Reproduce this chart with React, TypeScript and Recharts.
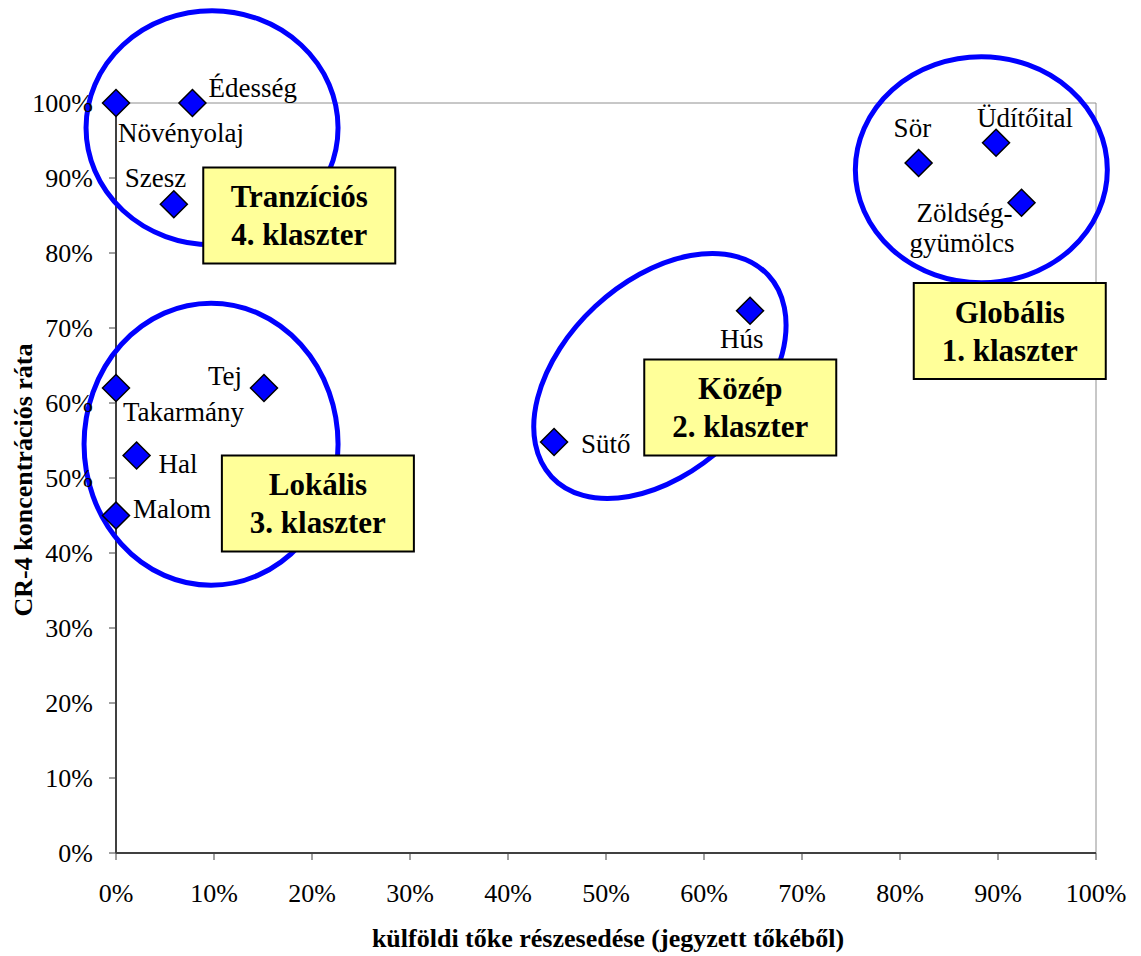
import React from 'react';
import { ScatterChart, Scatter, XAxis, YAxis, ReferenceDot, ReferenceLine, Label } from 'recharts';

// ---- data ----
const industries = ['Növényolaj', 'Édesség', 'Szesz', 'Sör', 'Üdítőital', 'Zöldség-gyümölcs', 'Takarmány', 'Tej', 'Hal', 'Malom', 'Sütő', 'Hús'];
const foreignShare = [0, 7.8, 5.9, 81.9, 89.8, 92.4, 0, 15.1, 2.1, 0, 44.7, 64.7];
const cr4Ratio = [100, 100, 86.5, 92.0, 94.7, 86.7, 62.0, 62.0, 53.0, 45.0, 54.8, 72.3];
const percentTicks = [0, 10, 20, 30, 40, 50, 60, 70, 80, 90, 100];

const clusterTitles = ['Globális', 'Közép', 'Lokális', 'Tranzíciós'];
const clusterNumbers = ['1. klaszter', '2. klaszter', '3. klaszter', '4. klaszter'];

// ---- annotation anchors (data coordinates) ----
const boxAnchorX = [91.2, 63.7, 20.6, 18.7];
const boxAnchorY = [69.6, 59.4, 46.6, 85.0];
const ringAnchorX = [88.3, 55.5, 9.7, 9.8];
const ringAnchorY = [91.1, 63.6, 54.5, 96.7];

// ---- styles ----
const ringShapes = [
  { rx: 126, ry: 113, rot: 0 },
  { rx: 148, ry: 95, rot: -43 },
  { rx: 127, ry: 141, rot: 0 },
  { rx: 126, ry: 117, rot: 0 },
];
const labelPlacement: Record<string, { dx: number; dy: number; lines?: string[]; lineDx?: number[] }> = {
  'Növényolaj': { dx: 2, dy: 39 },
  'Édesség': { dx: 16, dy: -6 },
  'Szesz': { dx: -49, dy: -17 },
  'Sör': { dx: -25, dy: -26 },
  'Üdítőital': { dx: -19, dy: -16 },
  'Zöldség-gyümölcs': { dx: -105, dy: 19, lines: ['Zöldség-', 'gyümölcs'], lineDx: [-105, -112] },
  'Takarmány': { dx: 7, dy: 33 },
  'Tej': { dx: -56, dy: -3 },
  'Hal': { dx: 22, dy: 17 },
  'Malom': { dx: 17, dy: 2 },
  'Sütő': { dx: 27, dy: 11 },
  'Hús': { dx: -30, dy: 37 },
};

const FONT = '"Liberation Serif", "Times New Roman", serif';
const BLUE = '#0000FF';

const points = industries.map((name, i) => ({ name, x: foreignShare[i], y: cr4Ratio[i] }));

const DiamondWithLabel = (props: any) => {
  const { cx, cy, payload } = props;
  if (cx == null || cy == null) return null;
  const h = 13.5;
  const pl = labelPlacement[payload.name] || { dx: 10, dy: 0 };
  const lines = pl.lines || [payload.name];
  return (
    <g>
      <path
        d={`M${cx},${cy - h} L${cx + h},${cy} L${cx},${cy + h} L${cx - h},${cy} Z`}
        fill={BLUE}
        stroke="#000"
        strokeWidth={1.5}
      />
      {lines.map((ln, k) => (
        <text
          key={k}
          x={cx + (pl.lineDx ? pl.lineDx[k] : pl.dx)}
          y={cy + pl.dy + k * 30}
          fontSize={27}
          fontFamily={FONT}
          fill="#000"
        >
          {ln}
        </text>
      ))}
    </g>
  );
};

const makeRing = (idx: number) => (props: any) => {
  const { cx, cy } = props;
  const s = ringShapes[idx];
  return (
    <ellipse
      cx={cx}
      cy={cy}
      rx={s.rx}
      ry={s.ry}
      transform={`rotate(${s.rot}, ${cx}, ${cy})`}
      fill="none"
      stroke={BLUE}
      strokeWidth={5}
    />
  );
};

const makeBox = (idx: number) => (props: any) => {
  const { cx, cy } = props;
  const w = 192;
  const h = 96;
  return (
    <g>
      <rect x={cx - w / 2} y={cy - h / 2} width={w} height={h} fill="#FFFF99" stroke="#000" strokeWidth={2} />
      <text x={cx} y={cy - 8.5} textAnchor="middle" fontSize={31} fontWeight="bold" fontFamily={FONT} fill="#000">
        {clusterTitles[idx]}
      </text>
      <text x={cx} y={cy + 29.5} textAnchor="middle" fontSize={31} fontWeight="bold" fontFamily={FONT} fill="#000">
        {clusterNumbers[idx]}
      </text>
    </g>
  );
};

const YTitle = (props: any) => {
  const vb = props.viewBox || {};
  const x = (vb.x || 0) + 32;
  const y = (vb.y || 0) + (vb.height || 0) / 2 + 2;
  return (
    <text x={x} y={y} transform={`rotate(-90, ${x}, ${y})`} textAnchor="middle" fontSize={26} fontWeight="bold" fontFamily={FONT} fill="#000">
      CR-4 koncentrációs ráta
    </text>
  );
};

const XTitle = (props: any) => {
  const vb = props.viewBox || {};
  const x = (vb.x || 0) + (vb.width || 0) / 2 + 2;
  const y = 947;
  return (
    <text x={x} y={y} textAnchor="middle" fontSize={26} fontWeight="bold" fontFamily={FONT} fill="#000">
      külföldi tőke részesedése (jegyzett tőkéből)
    </text>
  );
};

export default function App() {
  return (
    <div style={{ position: 'absolute', left: 0, top: 0, width: 1141, height: 956, background: '#fff' }}>
      <ScatterChart
        width={1141}
        height={956}
        margin={{ top: 103, right: 45, bottom: 0, left: 0 }}
        style={{ fontFamily: FONT }}
      >
        <XAxis
          type="number"
          dataKey="x"
          domain={[0, 100]}
          ticks={percentTicks}
          interval={0}
          tickFormatter={(v: number) => `${v}%`}
          tick={{ fontSize: 26, fill: '#000', fontFamily: FONT }}
          tickSize={7}
          tickMargin={24}
          axisLine={{ stroke: '#404040', strokeWidth: 2 }}
          tickLine={{ stroke: '#404040', strokeWidth: 1 }}
          height={103}
        >
          <Label content={XTitle} />
        </XAxis>
        <YAxis
          type="number"
          dataKey="y"
          domain={[0, 100]}
          ticks={percentTicks}
          interval={0}
          tickFormatter={(v: number) => `${v}%`}
          tick={{ fontSize: 26, fill: '#000', fontFamily: FONT }}
          tickSize={7}
          tickMargin={16}
          axisLine={{ stroke: '#404040', strokeWidth: 2 }}
          tickLine={{ stroke: '#404040', strokeWidth: 1 }}
          width={116}
        >
          <Label content={YTitle} />
        </YAxis>
        <ReferenceLine y={100} stroke="#909090" strokeWidth={1} ifOverflow="visible" />
        <ReferenceLine x={100} stroke="#909090" strokeWidth={1} ifOverflow="visible" />
        {ringAnchorX.map((rx, i) => (
          <ReferenceDot key={`ring${i}`} x={rx} y={ringAnchorY[i]} r={1} ifOverflow="visible" shape={makeRing(i)} />
        ))}
        {boxAnchorX.map((bx, i) => (
          <ReferenceDot key={`box${i}`} x={bx} y={boxAnchorY[i]} r={1} ifOverflow="visible" shape={makeBox(i)} />
        ))}
        <Scatter data={points} isAnimationActive={false} shape={DiamondWithLabel} />
      </ScatterChart>
    </div>
  );
}
